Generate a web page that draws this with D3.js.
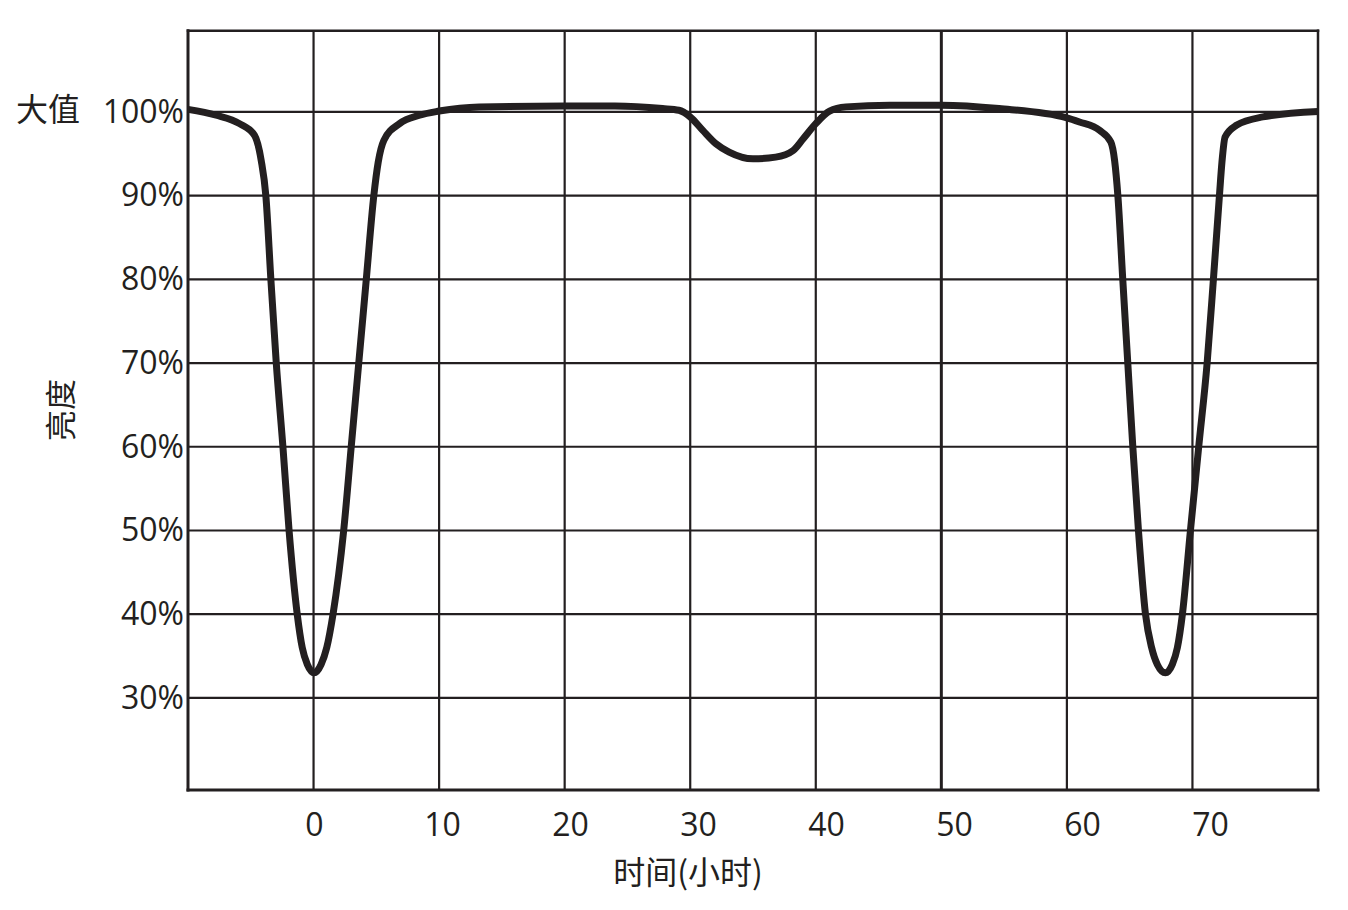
<!DOCTYPE html>
<html>
<head>
<meta charset="utf-8">
<script src="https://cdn.jsdelivr.net/npm/d3@7"></script>
<style>
  html, body { margin: 0; padding: 0; background: #ffffff; }
  svg { display: block; }
</style>
</head>
<body>
<svg id="chart" width="1348" height="910"></svg>
<script>
// ---- data ----
const xTicks = [0, 10, 20, 30, 40, 50, 60, 70];
const xTickLabels = ["0", "10", "20", "30", "40", "50", "60", "70"];
const yTicks = [30, 40, 50, 60, 70, 80, 90, 100];
const yTickLabels = ["30%", "40%", "50%", "60%", "70%", "80%", "90%", "100%"];
const maxLabel = "大值";
const xTitle = "时间(小时)";
const yTitle = "亮度";

const timeHours = [
  -10, -7.75, -5.9, -4.7, -4.17, -3.8, -3.4, -2.97, -2.44, -1.95, -1.3, -0.9, -0.5, 0.05,
  0.6, 1.05, 1.55, 2.4, 3.0, 3.6, 4.2, 4.8, 5.15, 5.6, 6.85, 8.44, 10, 13.2, 20, 24,
  27.8, 29.1, 30, 31, 32.05, 33.1, 35, 36.8, 38.2, 39, 40, 41.1, 42.4, 45.9, 50,
  54.6, 60, 61, 62.6, 63.5, 63.8, 64.06, 64.45, 64.85, 65.25, 65.7, 66.26, 66.75, 67.2,
  67.85, 68.4, 68.8, 69.2, 69.84, 70.5, 71.17, 71.67, 72.15, 72.35, 72.6, 73.5, 75.6, 80
];
const brightness = [
  100.3, 99.6, 98.6, 97.2, 94.2, 90, 80, 70, 60, 50, 40, 36, 34, 33,
  34, 36, 40, 50, 60, 70, 80, 90, 94, 96.6, 98.6, 99.6, 100.1, 100.6, 100.7, 100.7,
  100.4, 100.2, 99.4, 97.8, 96.2, 95.2, 94.4, 94.6, 95.4, 96.8, 98.6, 100.1, 100.6, 100.8, 100.8,
  100.4, 99.3, 98.8, 97.8, 96.4, 94.2, 90, 80, 70, 60, 50, 40, 36, 34,
  33, 34, 36, 40, 50, 60, 70, 80, 90, 94, 97, 98.4, 99.4, 100.05
];

// ---- layout ----
const ink = "#231f20";
const plot = { left: 188, right: 1318, top: 30.7, bottom: 790 };
const svg = d3.select("#chart");

const x = d3.scaleLinear().domain([-10, 80]).range([plot.left, plot.right]);
const y = d3.scaleLinear().domain([19, 109.7]).range([plot.bottom, plot.top]);
// tick labels in the source sit on a slightly wider spacing than the grid
const xLabel = d3.scaleLinear().domain([0, 70]).range([314, 1210]);

const latin = "'Open Sans', 'Noto Sans', sans-serif";
const cjk = "'Noto Sans CJK SC', 'Noto Sans', sans-serif";

// grid
const grid = svg.append("g").attr("stroke", ink).attr("fill", "none");
grid.selectAll("line.h").data(yTicks).join("line")
  .attr("class", "h")
  .attr("x1", plot.left).attr("x2", plot.right)
  .attr("y1", d => y(d)).attr("y2", d => y(d))
  .attr("stroke-width", 2.2);
grid.selectAll("line.v").data(xTicks).join("line")
  .attr("class", "v")
  .attr("x1", d => x(d)).attr("x2", d => x(d))
  .attr("y1", plot.top).attr("y2", plot.bottom)
  .attr("stroke-width", d => d === 50 ? 3 : 2.2);

// frame
const frame = svg.append("g").attr("stroke", ink).attr("fill", "none").attr("stroke-linecap", "square");
frame.append("line").attr("x1", plot.left).attr("x2", plot.left).attr("y1", plot.top).attr("y2", plot.bottom).attr("stroke-width", 3);
frame.append("line").attr("x1", plot.left).attr("x2", plot.right).attr("y1", plot.bottom).attr("y2", plot.bottom).attr("stroke-width", 3);
frame.append("line").attr("x1", plot.left).attr("x2", plot.right).attr("y1", plot.top).attr("y2", plot.top).attr("stroke-width", 2.5);
frame.append("line").attr("x1", plot.right).attr("x2", plot.right).attr("y1", plot.top).attr("y2", plot.bottom).attr("stroke-width", 2.5);

// axes (labels only)
const yAxis = d3.axisLeft(y).tickValues(yTicks).tickSize(0).tickPadding(0)
  .tickFormat((d, i) => yTickLabels[i]);
const gy = svg.append("g").attr("transform", `translate(${plot.left - 4},0)`).call(yAxis);
gy.select(".domain").remove();
gy.selectAll("text").attr("font-family", latin).attr("font-size", 32)
  .attr("fill", ink).attr("dy", "0.32em").attr("dx", 0);

const xAxis = d3.axisBottom(xLabel).tickValues(xTicks).tickSize(0).tickPadding(0)
  .tickFormat((d, i) => xTickLabels[i]);
const gx = svg.append("g").attr("transform", `translate(0,${plot.bottom})`).call(xAxis);
gx.select(".domain").remove();
gx.selectAll("text").attr("font-family", latin).attr("font-size", 32)
  .attr("fill", ink).attr("dy", null).attr("y", 46);

// extra label next to 100%
svg.append("text").attr("x", 16).attr("y", y(100) + 9)
  .attr("font-family", cjk).attr("font-size", 32).attr("fill", ink)
  .text(maxLabel);

// axis titles
svg.append("text").attr("x", 688).attr("y", 884)
  .attr("text-anchor", "middle").attr("font-family", cjk).attr("font-size", 32)
  .attr("fill", ink).text(xTitle);
svg.append("text")
  .attr("transform", "translate(58,410) rotate(-90)")
  .attr("text-anchor", "middle").attr("dominant-baseline", "central")
  .attr("font-family", cjk).attr("font-size", 31).attr("fill", ink)
  .text(yTitle);

// curve
const pts = timeHours.map((t, i) => [t, brightness[i]]);
const line = d3.line().x(d => x(d[0])).y(d => y(d[1])).curve(d3.curveMonotoneX);
svg.append("path").datum(pts)
  .attr("d", line)
  .attr("fill", "none").attr("stroke", ink).attr("stroke-width", 7)
  .attr("stroke-linejoin", "round").attr("stroke-linecap", "butt");
</script>
</body>
</html>
